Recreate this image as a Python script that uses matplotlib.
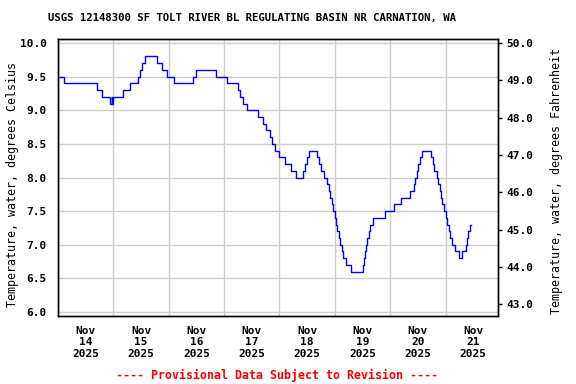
import pandas as pd
import matplotlib
matplotlib.use("Agg")
import matplotlib.pyplot as plt
import matplotlib.dates as mdates
from matplotlib.ticker import FixedLocator, FormatStrFormatter

plt.rcParams['font.family'] = 'DejaVu Sans Mono'
plt.rcParams['font.weight'] = 'bold'

# Hours since 2025-11-14 00:00 at which the reading changes, and the new reading (deg C)
hours = [0.0, 2.7, 17.1, 19.0, 22.7, 23.2, 23.5, 24.0, 28.1, 31.2, 34.5, 35.5, 36.6, 37.9,
         43.1, 45.0, 47.4, 50.2, 58.6, 59.6, 68.3, 73.1, 77.9, 79.0, 80.2, 81.8,
         86.8, 88.8, 90.3, 91.7, 92.9, 94.2, 96.0, 98.5, 101.1, 103.3,
         106.1, 107.0, 107.8, 108.9, 112.2, 113.2, 114.2, 115.3, 116.6, 117.4, 118.1,
         118.8, 119.4, 120.0, 120.6, 121.1, 121.6, 122.1, 122.9, 123.7, 125.0, 126.8,
         132.0, 132.6, 133.1, 133.5, 134.0, 135.0, 135.4, 136.6, 141.6, 145.5, 148.6,
         152.5, 154.2, 154.9, 155.4, 155.8, 156.2, 156.8, 157.7, 161.8, 162.4, 163.1,
         164.3, 164.8, 165.5, 165.9, 166.5, 167.2, 168.0, 168.7, 169.3, 169.8, 170.6,
         171.9, 174.0, 175.0, 176.9, 177.4, 177.9, 178.5, 178.8]
temp_c = [9.5, 9.4, 9.3, 9.2, 9.1, 9.2, 9.1, 9.2, 9.3, 9.4, 9.5, 9.6, 9.7, 9.8,
          9.7, 9.6, 9.5, 9.4, 9.5, 9.6, 9.5, 9.4, 9.3, 9.2, 9.1, 9.0,
          8.9, 8.8, 8.7, 8.6, 8.5, 8.4, 8.3, 8.2, 8.1, 8.0,
          8.1, 8.2, 8.3, 8.4, 8.3, 8.2, 8.1, 8.0, 7.9, 7.8, 7.7,
          7.6, 7.5, 7.4, 7.3, 7.2, 7.1, 7.0, 6.9, 6.8, 6.7, 6.6,
          6.7, 6.8, 6.9, 7.0, 7.1, 7.2, 7.3, 7.4, 7.5, 7.6, 7.7,
          7.8, 7.9, 8.0, 8.0, 8.1, 8.2, 8.3, 8.4, 8.3, 8.2, 8.1,
          8.0, 7.9, 7.8, 7.7, 7.6, 7.5, 7.4, 7.3, 7.2, 7.1, 7.0,
          6.9, 6.8, 6.9, 7.0, 7.1, 7.2, 7.3, 7.3]

left_ticks = [6.0, 6.5, 7.0, 7.5, 8.0, 8.5, 9.0, 9.5, 10.0]
right_ticks = [43, 44, 45, 46, 47, 48, 49, 50]

start = pd.Timestamp("2025-11-14")
times = start + pd.to_timedelta(hours, unit="h")

fig = plt.figure(figsize=(5.76, 3.84), dpi=100)
ax = fig.add_axes([58 / 576, 1 - 316 / 384, 440 / 576, 277 / 384])

ax.plot(times, temp_c, color="#0000ff", lw=1.0, drawstyle="steps-post", zorder=3)

# Y axes (left Celsius, right Fahrenheit)
ylo, yhi = 5.94, 10.06
ax.set_ylim(ylo, yhi)
ax.yaxis.set_major_locator(FixedLocator(left_ticks))
ax.yaxis.set_major_formatter(FormatStrFormatter("%.1f"))
ax.tick_params(axis="y", length=0, pad=8, labelsize=8)

ax2 = ax.twinx()
ax2.set_ylim(ylo * 9 / 5 + 32, yhi * 9 / 5 + 32)
ax2.yaxis.set_major_locator(FixedLocator(right_ticks))
ax2.yaxis.set_major_formatter(FormatStrFormatter("%.1f"))
ax2.tick_params(axis="y", length=3, width=1, pad=3, labelsize=8)

# X axis: gridlines at midnight, labels at noon
ax.set_xlim(start, start + pd.Timedelta(hours=190.7))
ax.xaxis.set_major_locator(mdates.DayLocator())
ax.xaxis.set_major_formatter(plt.NullFormatter())
ax.xaxis.set_minor_locator(mdates.HourLocator(byhour=12))
ax.xaxis.set_minor_formatter(mdates.DateFormatter("%b\n%d\n%Y"))
ax.tick_params(axis="x", which="both", length=0, pad=7, labelsize=8)

ax.grid(True, which="major", color="#cccccc", lw=1.0)
for sp in list(ax.spines.values()) + list(ax2.spines.values()):
    sp.set_linewidth(1.0)
    sp.set_color("black")

ax.set_ylabel("Temperature, water, degrees Celsius", fontsize=8.4)
ax.yaxis.set_label_coords(-0.088, 0.473)
ax2.set_ylabel("Temperature, water, degrees Fahrenheit", fontsize=8.4, rotation=90)
ax2.yaxis.set_label_coords(1.118, 0.487)

fig.text(252 / 576, 1 - 17.5 / 384,
         "USGS 12148300 SF TOLT RIVER BL REGULATING BASIN NR CARNATION, WA",
         ha="center", va="center", fontsize=7.7)
fig.text(277 / 576, 1 - 375 / 384, "---- Provisional Data Subject to Revision ----",
         ha="center", va="center", fontsize=8.4, color="red")

fig.savefig("out.png", dpi=100)
